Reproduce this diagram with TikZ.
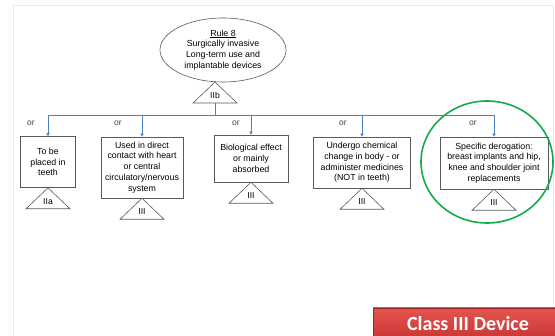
\documentclass[tikz,border=0pt]{standalone}
\usepackage{fontspec}
\setmainfont{Liberation Sans}
\newfontfamily\btnfont{Carlito}
\usetikzlibrary{shapes.geometric,arrows.meta}
\definecolor{linkblue}{RGB}{79,129,189}
\definecolor{boxgray}{RGB}{90,90,90}
\definecolor{ringgreen}{RGB}{20,170,70}
\definecolor{btntop}{RGB}{228,85,80}
\definecolor{btnbot}{RGB}{192,42,40}
\begin{document}
\begin{tikzpicture}[x=1pt,y=-1pt]
    \tikzset{crit/.style = {shape=rectangle,draw=boxgray,line width=0.6pt,align=center,inner sep=1pt,
        font=\fontsize{8.8}{10.8}\selectfont}}
    \tikzset{link/.style = {draw=linkblue,line width=0.6pt}}
    \tikzset{arr/.style = {link,-{Triangle[length=3pt,width=3pt]}}}
    \tikzset{orlab/.style = {font=\fontsize{8.6}{10}\selectfont,text=boxgray!80!black}}
    \tikzset{pics/cls/.style = {code={
        \draw[boxgray,line width=0.6pt] (0,0) -- (22,21) -- (-22,21) -- cycle;
        \node[font=\fontsize{8.6}{10}\selectfont] at (0,13.5) {#1};}}}
    \useasboundingbox (0,0) rectangle (555,336);
    % frame
    \draw[black!8,line width=0.8pt] (13,336) -- (13,5) -- (553,5) -- (553,336);
    % rule at the top
    \node[shape=ellipse,draw=boxgray,line width=0.6pt,inner sep=0pt,minimum width=126pt,minimum height=64pt,
        align=center,font=\fontsize{8.8}{10.8}\selectfont] (rule) at (223,50)
        {\underline{Rule 8}\\Surgically invasive\\Long-term use and\\implantable devices};
    \pic at (215,82) {cls=IIb};
    \coordinate (stem) at (215,103);
    \coordinate (hub) at (215,115);
    % bus points
    \coordinate (bus1) at (48,115);
    \coordinate (bus2) at (142,115);
    \coordinate (bus3) at (251,115);
    \coordinate (bus4) at (362,115);
    \coordinate (bus5) at (494,115);
    % boxes
    \node[crit,minimum width=55pt,minimum height=51pt] (b1) at (48,162) {To be\\placed in\\teeth};
    \node[crit,minimum width=82pt,minimum height=61pt] (b2) at (142,167.5) {Used in direct\\contact with heart\\or central\\circulatory/nervous\\system};
    \node[crit,minimum width=74pt,minimum height=47pt] (b3) at (251,158.5) {Biological effect\\or mainly\\absorbed};
    \node[crit,minimum width=97pt,minimum height=51pt] (b4) at (362,162.5) {Undergo chemical\\change in body - or\\administer medicines\\(NOT in teeth)};
    \node[crit,minimum width=108pt,minimum height=52pt] (b5) at (494,163) {Specific derogation:\\breast implants and hip,\\knee and shoulder joint\\replacements};
    % classes
    \pic at (b1.south) {cls=IIa};
    \pic at (b2.south) {cls=III};
    \pic at (b3.south) {cls=III};
    \pic at (b4.south) {cls=III};
    \pic at (b5.south) {cls=III};
    % edges
    \draw[link] (stem) -- (hub);
    \draw[link] (bus1) -- (bus5);
    \draw[arr] (bus1) -- (b1.north);
    \draw[arr] (bus2) -- (b2.north);
    \draw[arr] (bus3) -- (b3.north);
    \draw[arr] (bus4) -- (b4.north);
    \draw[arr] (bus5) -- (b5.north);
    % or labels
    \node[orlab] (or1) at (31,123) {or};
    \node[orlab] (or2) at (118,123) {or};
    \node[orlab] (or3) at (236,123) {or};
    \node[orlab] (or4) at (343,123) {or};
    \node[orlab] (or5) at (473,123) {or};
    % highlight
    \draw[ringgreen,line width=1.6pt] (487,162) ellipse [x radius=66,y radius=61];
    % button
    \shade[top color=btntop,bottom color=btnbot,draw=btnbot!80!black,line width=0.5pt] (373,308) rectangle (570,350);
    \node[text=white,font=\btnfont\bfseries\fontsize{20}{21}\selectfont] (btn) at (468,324) {Class III Device};
\end{tikzpicture}
\end{document}
